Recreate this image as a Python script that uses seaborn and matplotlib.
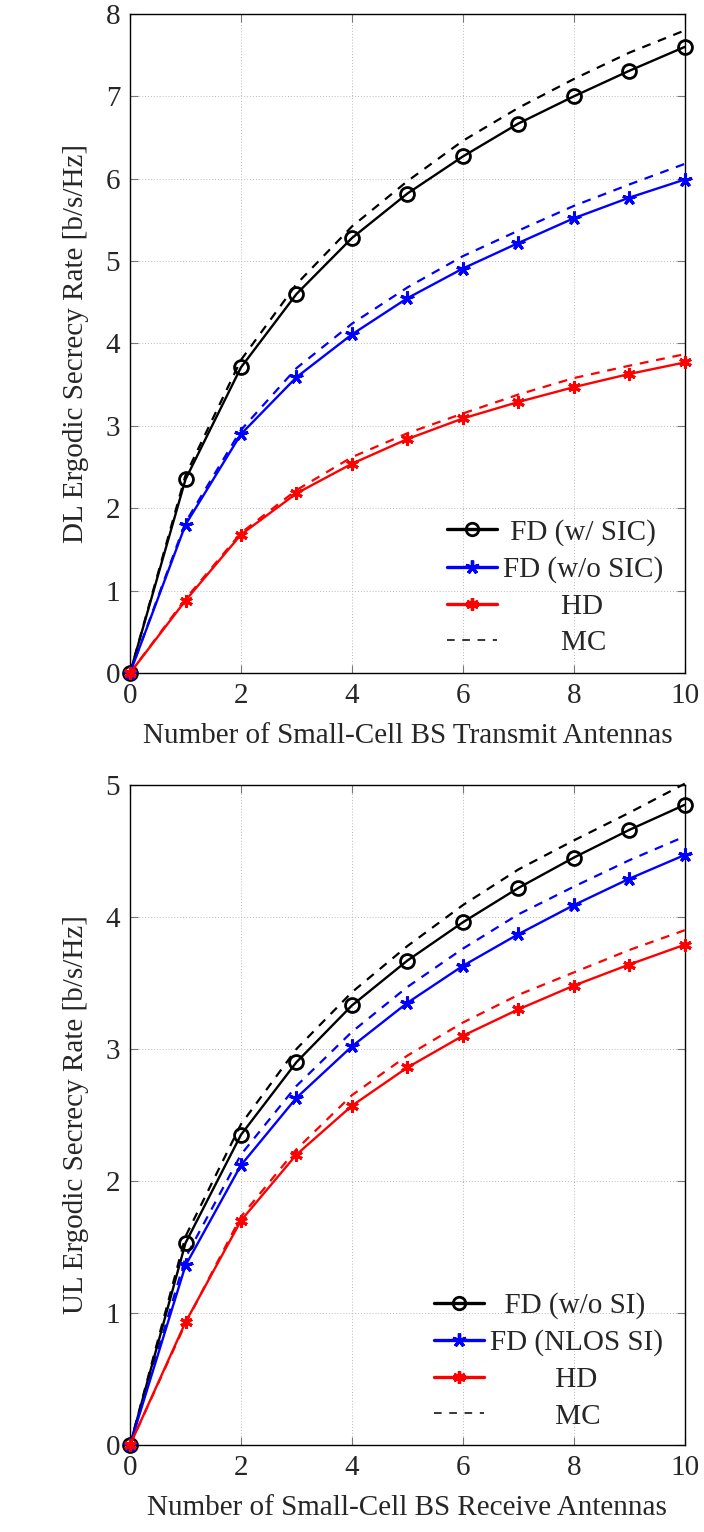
import numpy as np
import pandas as pd
import seaborn as sns
import matplotlib
matplotlib.use('Agg')
import matplotlib.pyplot as plt
from matplotlib.lines import Line2D

# 안테나 수
antennas = [0, 1, 2, 3, 4, 5, 6, 7, 8, 9, 10]

# DL (위 그래프)
dl_fd_sic = [0, 2.35, 3.71, 4.60, 5.28, 5.82, 6.27, 6.67, 7.00, 7.31, 7.60]
dl_fd_nosic = [0, 1.80, 2.90, 3.59, 4.11, 4.55, 4.91, 5.22, 5.52, 5.77, 5.99]
dl_hd = [0, 0.88, 1.68, 2.18, 2.54, 2.84, 3.09, 3.29, 3.47, 3.63, 3.77]
dl_mc_fd_sic = [0, 2.40, 3.80, 4.72, 5.42, 5.97, 6.46, 6.86, 7.21, 7.53, 7.80]
dl_mc_fd_nosic = [0, 1.83, 2.95, 3.70, 4.24, 4.68, 5.06, 5.37, 5.67, 5.93, 6.18]
dl_mc_hd = [0, 0.90, 1.70, 2.22, 2.62, 2.91, 3.15, 3.38, 3.58, 3.73, 3.87]

# UL (아래 그래프)
ul_fd_nosi = [0, 1.53, 2.35, 2.90, 3.33, 3.67, 3.96, 4.22, 4.45, 4.66, 4.85]
ul_fd_nlos = [0, 1.36, 2.12, 2.63, 3.02, 3.35, 3.63, 3.87, 4.09, 4.29, 4.47]
ul_hd = [0, 0.93, 1.70, 2.20, 2.57, 2.86, 3.10, 3.30, 3.48, 3.64, 3.79]
ul_mc_fd_nosi = [0, 1.58, 2.43, 3.00, 3.43, 3.78, 4.09, 4.36, 4.58, 4.79, 5.01]
ul_mc_fd_nlos = [0, 1.42, 2.20, 2.72, 3.13, 3.47, 3.76, 4.02, 4.23, 4.43, 4.61]
ul_mc_hd = [0, 0.92, 1.73, 2.24, 2.65, 2.95, 3.20, 3.41, 3.58, 3.75, 3.90]

sns.set_style('ticks')
plt.rcParams['font.family'] = ['Liberation Serif', 'DejaVu Serif']
FS = 21

fig = plt.figure(figsize=(7.04, 15.32), dpi=100)
ax1 = fig.add_axes([0.1847, 0.5607, 0.788, 0.4302])
ax2 = fig.add_axes([0.1847, 0.0568, 0.788, 0.4308])

star5 = (5, 2, 0)
star6 = (6, 2, 0)


def draw(ax, solids, mcs, labels, mc_label, ymax, xlabel, ylabel, leg_y):
    styles = [('black', 'o', 10, 2.0), ('blue', star5, 10, 2.2), ('red', star6, 9, 2.2)]
    for y, (c, m, ms, mew) in zip(solids, styles):
        sns.lineplot(x=antennas, y=y, ax=ax, color=c, marker=m, markersize=ms,
                     markerfacecolor='none' if m == 'o' else c, markeredgecolor=c,
                     markeredgewidth=mew, linewidth=1.7, clip_on=False, zorder=4)
    for y, (c, m, ms, mew) in zip(mcs, styles):
        sns.lineplot(x=antennas, y=y, ax=ax, color=c, linestyle=(0, (4, 3.5)),
                     linewidth=1.6, clip_on=False, zorder=3)

    ax.set_xlim(0, 10)
    ax.set_ylim(0, ymax)
    ax.set_xticks(range(0, 11, 2))
    ax.set_yticks(range(0, ymax + 1))
    ax.grid(True, linestyle=(0, (1, 2)), color='#bbbbbb', linewidth=0.7)
    ax.tick_params(direction='in', top=True, right=True, length=6, width=0.8,
                   color='#777777', labelsize=FS, pad=7)
    for s in ax.spines.values():
        s.set_linewidth(1.0)
        s.set_color('black')
    ax.set_xlabel(xlabel, fontsize=FS, labelpad=10)
    ax.set_ylabel(ylabel, fontsize=FS, labelpad=12)

    handles = [
        Line2D([], [], color='black', marker='o', markerfacecolor='none', markersize=9,
               markeredgewidth=2.0, linewidth=2.4),
        Line2D([], [], color='blue', marker=star5, markersize=10, markeredgewidth=2.4, linewidth=2.4),
        Line2D([], [], color='red', marker=star6, markersize=9, markeredgewidth=2.4, linewidth=2.4),
        Line2D([], [], color='black', linestyle=(0, (5, 5)), linewidth=1.1),
    ]
    ax.legend(handles, labels + [mc_label], loc='lower right', frameon=False,
              fontsize=FS, handlelength=1.7, handletextpad=0.2,
              labelspacing=0.35, borderaxespad=0.35, bbox_to_anchor=(1.0, leg_y))


draw(ax1, [dl_fd_sic, dl_fd_nosic, dl_hd], [dl_mc_fd_sic, dl_mc_fd_nosic, dl_mc_hd],
     [' FD (w/ SIC)', 'FD (w/o SIC)', '        HD'], '        MC', 8,
     'Number of Small-Cell BS Transmit Antennas', 'DL Ergodic Secrecy Rate [b/s/Hz]', -0.008)

draw(ax2, [ul_fd_nosi, ul_fd_nlos, ul_hd], [ul_mc_fd_nosi, ul_mc_fd_nlos, ul_mc_hd],
     ['  FD (w/o SI)', 'FD (NLOS SI)', '         HD'], '         MC', 5,
     'Number of Small-Cell BS Receive Antennas', 'UL Ergodic Secrecy Rate [b/s/Hz]', -0.01)

fig.savefig('out.png', dpi=100)
